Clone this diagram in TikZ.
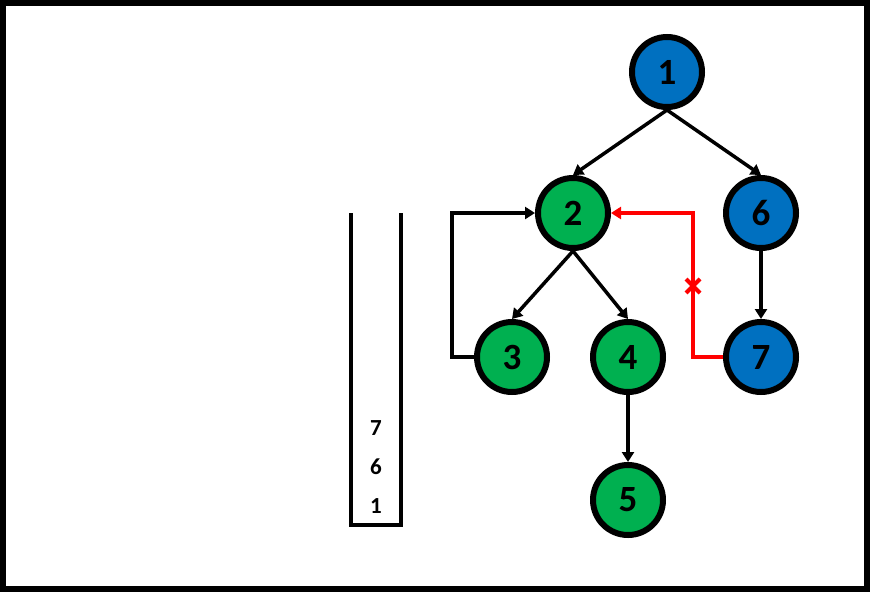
\documentclass[tikz,border=0pt]{standalone}
\usepackage{fontspec}
\setmainfont{Carlito}[BoldFont={* Bold}]
\usetikzlibrary{arrows.meta}
\definecolor{vgreen}{RGB}{0,176,80}
\definecolor{vblue}{RGB}{0,112,192}
\begin{document}
\begin{tikzpicture}[x=1pt,y=-1pt,
  vert/.style={circle,draw=black,line width=6pt,minimum size=70pt,inner sep=0pt,
    font=\fontsize{37}{39}\selectfont\bfseries},
  gvert/.style={vert,fill=vgreen},
  bvert/.style={vert,fill=vblue},
  edge/.style={line width=3.5pt,-{Triangle[length=10pt,width=12pt]}},
  redge/.style={edge,draw=red},
  stackline/.style={line width=4.5pt},
  item/.style={font=\fontsize{23}{25}\selectfont\bfseries}]
% frame
\useasboundingbox (0,0) rectangle (870,592);
\draw[line width=6pt] (3,3) rectangle (867,589);
% vertices
\node[bvert] (n1) at (667,72) {1};
\node[gvert] (n2) at (573,213) {2};
\node[bvert] (n6) at (761,213) {6};
\node[gvert] (n3) at (512,357) {3};
\node[gvert] (n4) at (628,357) {4};
\node[bvert] (n7) at (761,357) {7};
\node[gvert] (n5) at (628,500) {5};
% tree edges
\draw[edge] (n1.south) -- (n2.north);
\draw[edge] (n1.south) -- (n6.north);
\draw[edge] (n2.south) -- (n3.north);
\draw[edge] (n2.south) -- (n4.north);
\draw[edge] (n6.south) -- (n7.north);
\draw[edge] (n4.south) -- (n5.north);
% back edges
\draw[edge] (n3.west) -- ++(-22,0) |- (n2.west);
\draw[redge] (n7.west) -- ++(-30,0) |- (n2.east);
\coordinate (cut) at (693,286);
\draw[red,line width=4pt] ([shift={(-7,-7)}]cut) -- ([shift={(7,7)}]cut)
  ([shift={(-7,7)}]cut) -- ([shift={(7,-7)}]cut);
% stack
\draw[stackline] (351,213) -- (351,525) -- (401,525) -- (401,213);
\node[item] (s7) at (376,428) {7};
\node[item] (s6) at (376,467) {6};
\node[item] (s1) at (376,506) {1};
\end{tikzpicture}
\end{document}
